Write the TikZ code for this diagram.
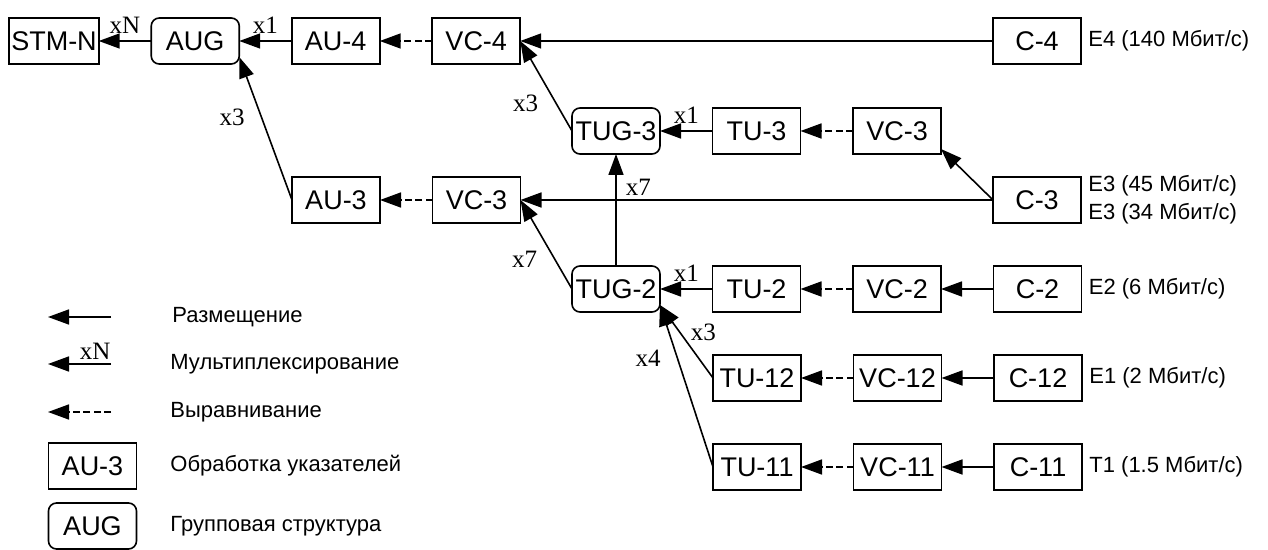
\documentclass[tikz,border=0pt]{standalone}
\usepackage{fontspec}
\setmainfont{Liberation Sans}
\newfontfamily\mulfont{Liberation Serif}
\usetikzlibrary{arrows.meta,positioning}

\begin{document}
\begin{tikzpicture}[
    x=0.5pt, y=-0.5pt,
    node distance=22pt and 26.25pt,
    blk/.style={draw, line width=0.8pt, outer sep=0pt, minimum width=44pt, minimum height=23pt, inner sep=1pt, font=\fontsize{13.5}{15}\selectfont},
    grp/.style={blk, rounded corners=4pt},
    rate/.style={inner sep=0pt, align=left, font=\fontsize{11}{14}\selectfont},
    leg/.style={inner sep=0pt, anchor=west, font=\fontsize{11}{13}\selectfont},
    mul/.style={inner sep=1pt, font=\mulfont\fontsize{12.5}{13}\selectfont},
    arr/.style={line width=0.8pt, -{Triangle[length=10.5pt,width=7.5pt]}},
    aln/.style={arr, dash pattern=on 3.5pt off 1.75pt}
  ]
    \useasboundingbox (0,0) rectangle (1268,550);

    % rows of the multiplexing scheme
    \node[blk] (stm) at (54,41) {STM-N};
    \node[grp, right=of stm] (aug) {AUG};
    \node[blk, right=of aug] (au4) {AU-4};
    \node[blk, right=of au4] (vc4) {VC-4};
    \node[blk] (c4) at (1037,41) {C-4};

    \node[grp] (tug3) at (616,131) {TUG-3};
    \node[blk, right=of tug3] (tu3) {TU-3};
    \node[blk, right=of tu3] (vc3a) {VC-3};

    \node[blk] (au3) at (336,200) {AU-3};
    \node[blk, right=of au3] (vc3) {VC-3};
    \node[blk] (c3) at (1037,200) {C-3};

    \node[grp] (tug2) at (616,289) {TUG-2};
    \node[blk, right=of tug2] (tu2) {TU-2};
    \node[blk, right=of tu2] (vc2) {VC-2};
    \node[blk, right=of vc2] (c2) {C-2};

    \node[blk] (tu12) at (757,378) {TU-12};
    \node[blk, right=of tu12] (vc12) {VC-12};
    \node[blk, right=of vc12] (c12) {C-12};

    \node[blk] (tu11) at (757,467) {TU-11};
    \node[blk, right=of tu11] (vc11) {VC-11};
    \node[blk, right=of vc11] (c11) {C-11};

    % tributary rates
    \node[rate, right=3.5pt of c4] (r4) {E4 (140 Мбит/с)};
    \node[rate, right=3.5pt of c3] (r3) {E3 (45 Мбит/с)\\E3 (34 Мбит/с)};
    \node[rate, right=3.5pt of c2] (r2) {E2 (6 Мбит/с)};
    \node[rate, right=3.5pt of c12] (r12) {E1 (2 Мбит/с)};
    \node[rate, right=3.5pt of c11] (r11) {T1 (1.5 Мбит/с)};

    % connections
    \draw[arr] (aug) -- node[mul, above=2.5pt]{xN} (stm);
    \draw[arr] (au4) -- node[mul, above=2.5pt]{x1} (aug);
    \draw[aln] (vc4) -- (au4);
    \draw[arr] (c4) -- (vc4);
    \draw[arr] (au3.west) -- node[mul, left=7pt, pos=0.58]{x3} ([yshift=3.5pt]aug.south east);
    \draw[arr] (tug3.west) -- node[mul, left=7.5pt, pos=0.31]{x3} (vc4.east);
    \draw[arr] (tu3) -- node[mul, above=2.5pt]{x1} (tug3);
    \draw[aln] (vc3a) -- (tu3);
    \draw[arr] (c3.west) -- ([yshift=2.5pt]vc3a.south east);
    \draw[aln] (vc3) -- (au3);
    \draw[arr] (c3) -- (vc3);
    \draw[arr] (tug2) -- node[mul, right=3.5pt, pos=0.7]{x7} (tug3);
    \draw[arr] (tug2.west) -- node[mul, left=7.5pt, pos=0.33]{x7} (vc3.east);
    \draw[arr] (tu2) -- node[mul, above=2.5pt]{x1} (tug2);
    \draw[aln] (vc2) -- (tu2);
    \draw[arr] (c2) -- (vc2);
    \draw[arr] (tu12.west) -- node[mul, right=4pt, pos=0.62]{x3} ([yshift=3.5pt]tug2.south east);
    \draw[aln] (vc12) -- (tu12);
    \draw[arr] (c12) -- (vc12);
    \draw[arr] (tu11.west) -- node[mul, left=7pt, pos=0.67]{x4} ([yshift=3.5pt]tug2.south east);
    \draw[aln] (vc11) -- (tu11);
    \draw[arr] (c11) -- (vc11);

    % legend
    \coordinate (l1a) at (111,317);
    \coordinate (l1b) at (48,317);
    \coordinate (l2a) at (111,364);
    \coordinate (l2b) at (48,364);
    \coordinate (l3a) at (111,412);
    \coordinate (l3b) at (48,412);
    \draw[arr] (l1a) -- (l1b);
    \draw[arr] (l2a) -- node[mul, above=1pt, pos=0.25]{xN} (l2b);
    \draw[aln] (l3a) -- (l3b);
    \node[blk] (lau) at (92.5,466) {AU-3};
    \node[grp] (laug) at (92.5,526) {AUG};
    \node[leg] (t1) at (172,317) {Размещение};
    \node[leg] (t2) at (170,364) {Мультиплексирование};
    \node[leg] (t3) at (170,412) {Выравнивание};
    \node[leg] (t4) at (170,466) {Обработка указателей};
    \node[leg] (t5) at (170,526) {Групповая структура};
  \end{tikzpicture}
\end{document}
